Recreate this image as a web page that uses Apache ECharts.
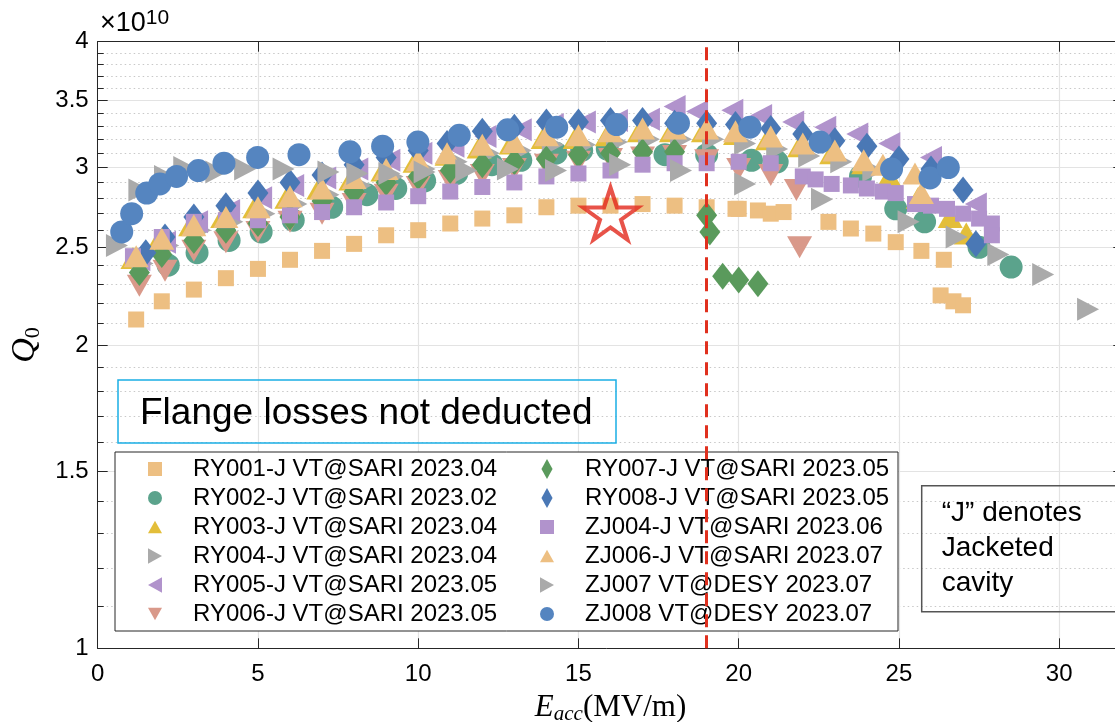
<!DOCTYPE html>
<html><head><meta charset="utf-8">
<script src="https://cdn.jsdelivr.net/npm/echarts@6/dist/echarts.min.js"></script>
<style>html,body{margin:0;padding:0;background:#fff}#c{width:1115px;height:722px}</style>
</head><body><div id="c"></div>
<script>
// ---- tick values ----
const xTicks = [0, 5, 10, 15, 20, 25, 30];
const yMajor = [1, 1.5, 2, 2.5, 3, 3.5, 4];
const yMinor = [1.1,1.2,1.3,1.4,1.6,1.7,1.8,1.9,2.1,2.2,2.3,2.4,2.6,2.7,2.8,2.9,3.1,3.2,3.3,3.4,3.6,3.7,3.8,3.9];

// ---- series names ----
const names = [
  'RY001-J VT@SARI 2023.04','RY002-J VT@SARI 2023.02','RY003-J VT@SARI 2023.04',
  'RY004-J VT@SARI 2023.04','RY005-J VT@SARI 2023.05','RY006-J VT@SARI 2023.05',
  'RY007-J VT@SARI 2023.05','RY008-J VT@SARI 2023.05','ZJ004-J VT@SARI 2023.06',
  'ZJ006-J VT@SARI 2023.07','ZJ007 VT@DESY 2023.07','ZJ008 VT@DESY 2023.07'
];

// ---- data: Eacc (MV/m) and Q0 (x1e10) ----
const RY001_x = [1.2,2.0,3.0,4.0,5.0,6.0,7.0,8.0,9.0,10.0,11.0,12.0,13.0,14.0,15.0,16.0,17.0,18.0,19.0,19.9,20.0,20.6,21.0,21.4,22.8,23.5,24.2,24.9,25.7,26.4,26.3,26.7,27.0];
const RY001_q = [2.12,2.21,2.27,2.33,2.38,2.43,2.48,2.52,2.57,2.60,2.64,2.67,2.69,2.74,2.75,2.75,2.76,2.75,2.74,2.73,2.73,2.72,2.70,2.71,2.65,2.61,2.58,2.53,2.48,2.43,2.24,2.21,2.19];

const RY002_x = [2.2,3.1,4.1,5.1,6.1,7.3,8.4,9.3,10.2,11.2,12.3,13.2,14.3,15.1,15.9,17.7,19.0,20.4,21.2,23.8,24.9,25.8,27.5,28.5];
const RY002_q = [2.40,2.47,2.54,2.59,2.66,2.74,2.82,2.86,2.91,2.96,3.02,3.05,3.10,3.12,3.13,3.09,3.09,3.05,3.04,2.94,2.73,2.65,2.50,2.39];

const RY003_x = [1.1,1.9,2.9,3.9,4.9,5.9,6.9,7.9,8.9,9.9,10.9,11.9,12.9,13.9,14.9,15.9,16.9,17.9,18.9,19.9,20.9,21.9,22.9,23.9,24.7,25.6,26.6,27.1];
const RY003_q = [2.44,2.54,2.63,2.68,2.74,2.80,2.86,2.92,2.98,3.04,3.09,3.14,3.17,3.21,3.21,3.23,3.26,3.26,3.26,3.24,3.20,3.15,3.10,3.03,2.94,2.80,2.68,2.58];

const RY004_x = [1.4,2.2,3.2,4.2,5.2,6.2,7.2,8.2,9.2,10.2,11.2,12.2,13.2,14.2,15.2,16.2,17.2,18.2,19.2,20.2,21.2,22.2,23.2,24.2];
const RY004_q = [2.41,2.51,2.60,2.65,2.70,2.76,2.82,2.88,2.94,2.99,3.04,3.10,3.12,3.16,3.16,3.18,3.20,3.20,3.20,3.17,3.13,3.08,3.04,2.98];

const RY005_x = [1.3,2.1,3.1,4.1,5.1,6.1,7.1,8.1,9.1,10.1,11.1,12.1,13.2,14.2,15.2,16.2,17.2,18.0,18.7,19.8,20.7,21.7,22.7,23.7,24.7,26.0,27.4];
const RY005_q = [2.43,2.53,2.65,2.72,2.80,2.88,2.93,2.99,3.05,3.10,3.15,3.22,3.27,3.31,3.33,3.34,3.35,3.45,3.41,3.42,3.38,3.33,3.29,3.24,3.17,3.07,2.76];

const RY006_x = [1.3,2.1,3.0,4.0,5.0,6.0,7.0,8.0,9.0,10.0,11.0,12.0,13.0,14.0,15.0,16.0,17.0,18.0,19.0,20.0,21.0,21.8,21.9];
const RY006_q = [2.29,2.37,2.48,2.53,2.59,2.65,2.70,2.76,2.82,2.87,2.91,2.95,2.99,3.02,3.04,3.06,3.07,3.08,3.05,2.99,2.95,2.85,2.50];

const RY007_x = [1.3,2.0,3.0,4.0,5.0,6.0,7.0,8.0,9.0,10.0,11.0,12.0,13.0,14.0,15.0,16.0,17.0,18.0,19.0,19.1,19.5,20.0,20.6];
const RY007_q = [2.36,2.46,2.54,2.60,2.64,2.68,2.78,2.84,2.90,2.94,2.98,3.02,3.04,3.06,3.09,3.10,3.11,3.11,2.69,2.59,2.34,2.32,2.30];

const RY008_x = [1.5,2.1,3.0,4.0,5.0,6.0,7.0,8.0,9.0,10.0,10.9,12.0,13.0,14.0,15.0,16.0,17.0,18.0,19.0,19.9,21.0,22.0,23.0,24.0,25.0,26.0,27.0,27.4];
const RY008_q = [2.47,2.56,2.68,2.75,2.83,2.90,2.95,3.02,3.07,3.12,3.17,3.26,3.29,3.33,3.33,3.34,3.34,3.32,3.32,3.31,3.28,3.24,3.19,3.15,3.06,2.99,2.85,2.52];

const ZJ004_x = [1.1,2.0,3.0,4.0,5.0,6.0,7.0,8.0,9.0,10.0,11.0,12.0,13.0,14.0,15.0,16.0,17.0,18.0,19.0,20.0,21.0,22.0,22.4,22.9,23.5,24.0,24.5,24.9,25.5,26.0,26.5,27.0,27.5,27.9,27.9];
const ZJ004_q = [2.45,2.56,2.65,2.66,2.66,2.69,2.71,2.74,2.77,2.81,2.84,2.87,2.90,2.94,2.96,2.98,3.02,3.03,3.03,3.04,3.03,2.94,2.92,2.89,2.88,2.86,2.84,2.83,2.76,2.75,2.73,2.70,2.67,2.64,2.57];

const ZJ006_x = [1.2,2.0,3.0,4.0,5.0,6.0,7.0,8.0,9.0,10.0,10.9,12.0,13.0,14.0,15.0,16.0,17.0,18.0,19.0,19.9,21.0,22.0,23.0,23.9,24.5,25.5,25.7];
const ZJ006_q = [2.45,2.55,2.63,2.68,2.74,2.81,2.86,2.93,2.99,3.05,3.10,3.16,3.18,3.23,3.23,3.26,3.28,3.28,3.28,3.26,3.22,3.17,3.12,3.05,3.02,2.96,2.83];

const ZJ007_x = [0.6,1.3,2.1,2.7,3.7,4.6,5.8,7.2,8.1,9.1,10.2,11.5,12.8,14.3,16.3,18.2,20.2,22.6,25.3,26.8,28.1,29.5,30.9];
const ZJ007_q = [2.51,2.85,2.94,3.00,2.97,2.99,2.99,2.97,2.96,2.96,2.97,2.98,2.99,2.98,3.02,2.98,2.89,2.79,2.65,2.56,2.46,2.35,2.17];

const ZJ008_x = [0.75,1.06,1.53,1.94,2.46,3.14,3.94,4.99,6.28,7.87,8.89,9.99,11.28,12.79,14.32,16.19,18.12,20.35,22.54,24.77,25.97,26.54];
const ZJ008_q = [2.59,2.70,2.83,2.89,2.94,2.98,3.03,3.07,3.09,3.11,3.15,3.18,3.23,3.27,3.29,3.31,3.32,3.29,3.18,2.99,2.93,3.00];

// highlighted point (star) and threshold line
const star_x = [16.0];
const star_q = [2.70];
const threshold_x = 19;

// ---- styles ----
const SANS = '"Liberation Sans", Arial, Helvetica, sans-serif';
const SERIF = '"Liberation Serif", "Times New Roman", serif';
const colors = ['#EDBF82','#5BA38C','#E3BE3A','#AAAAAA','#B193CC','#D9998A','#5A9A5C','#4A78B5','#B193CC','#EDBF82','#AAAAAA','#5585C0'];
const sym = {
  sq:  {symbol:'rect', size:16, rot:0},
  ci:  {symbol:'circle', size:23, rot:0},
  up:  {symbol:'triangle', size:[25,22], rot:0},
  rt:  {symbol:'triangle', size:[23,22], rot:-90},
  lf:  {symbol:'triangle', size:[23,22], rot:90},
  dn:  {symbol:'triangle', size:[25,22], rot:180},
  di:  {symbol:'diamond', size:[21,27], rot:0}
};
const legIcon = {
  sq: 'path://M0,0H10V10H0Z',
  ci: 'circle',
  up: 'path://M5,0L10,9L0,9Z',
  rt: 'path://M0,0L9,5L0,10Z',
  lf: 'path://M9,0L0,5L9,10Z',
  dn: 'path://M0,0L10,0L5,9Z',
  di: 'path://M5,0L10,9L5,18L0,9Z'
};
const kinds = ['sq','ci','up','rt','lf','dn','di','di','sq','up','rt','ci'];
const xs = [RY001_x,RY002_x,RY003_x,RY004_x,RY005_x,RY006_x,RY007_x,RY008_x,ZJ004_x,ZJ006_x,ZJ007_x,ZJ008_x];
const qs = [RY001_q,RY002_q,RY003_q,RY004_q,RY005_q,RY006_q,RY007_q,RY008_q,ZJ004_q,ZJ006_q,ZJ007_q,ZJ008_q];

const series = names.map((n, i) => {
  const s = sym[kinds[i]];
  return {
    type: 'scatter', name: n, silent: true, z: 2,
    xAxisIndex: 0, yAxisIndex: 0,
    symbol: s.symbol, symbolSize: s.size, symbolRotate: s.rot,
    itemStyle: { color: colors[i], opacity: 1 },
    data: xs[i].map((x, j) => [x, qs[i][j]])
  };
});
series.push({
  type: 'scatter', name: 'star', silent: true, z: 3,
  xAxisIndex: 0, yAxisIndex: 0,
  symbol: 'path://M0,-100L22.45,-30.9L95.1,-30.9L36.33,11.8L58.8,80.9L0,38.2L-58.8,80.9L-36.33,11.8L-95.1,-30.9L-22.45,-30.9Z',
  symbolSize: [55, 52],
  itemStyle: { color: 'rgba(0,0,0,0)', borderColor: '#E2281B', borderWidth: 4 },
  data: star_x.map((x, j) => [x, star_q[j]]),
  markLine: {
    silent: true, symbol: ['none','none'], label: {show: false},
    lineStyle: { color: '#E0301E', width: 3, type: [13, 8] },
    data: [{ xAxis: threshold_x }]
  }
});

function legend(idx, left) {
  return {
    show: true, orient: 'vertical', left: left, top: 457, padding: 0,
    itemWidth: 14, itemHeight: 20, itemGap: 5, selectedMode: false,
    symbolRotate: 0, symbolKeepAspect: true,
    textStyle: { fontSize: 24, fontFamily: SANS, color: '#000', lineHeight: 24, padding: [0,0,0,26] },
    data: idx.map(i => ({ name: names[i], icon: legIcon[kinds[i]] })),
    z: 5
  };
}

const axisCol = '#262626';
const option = {
  animation: false,
  textStyle: { fontFamily: SANS },
  grid: { left: 97.7, top: 41.7, width: 1025.6, height: 606.6, containLabel: false, outerBoundsMode: 'none' },
  legend: [legend([0,1,2,3,4,5], 148), legend([6,7,8,9,10,11], 540)],
  xAxis: [
    { type: 'value', min: 0, max: 32, position: 'bottom',
      axisLine: { show: true, onZero: false, lineStyle: { color: axisCol, width: 1 } },
      axisTick: { show: true, inside: true, length: 10, customValues: xTicks, lineStyle: { color: axisCol } },
      axisLabel: { customValues: xTicks, fontSize: 24, color: '#000', margin: 14, fontFamily: SANS },
      splitLine: { show: true, lineStyle: { color: '#e3e3e3', width: 1.2 } },
      name: '{e|E}{s|acc}{r|(MV/m)}', nameLocation: 'middle', nameGap: 30,
      nameTextStyle: { rich: {
        e: { fontFamily: SERIF, fontStyle: 'italic', fontSize: 31, lineHeight: 34, color: '#000' },
        s: { fontFamily: SERIF, fontStyle: 'italic', fontSize: 21, lineHeight: 20, padding: [13,0,0,0], color: '#000' },
        r: { fontFamily: SERIF, fontSize: 31, lineHeight: 34, color: '#000' } } } },
    { type: 'value', min: 0, max: 32, position: 'top',
      axisLine: { show: true, onZero: false, lineStyle: { color: axisCol, width: 1 } },
      axisTick: { show: true, inside: true, length: 10, customValues: xTicks, lineStyle: { color: axisCol } },
      axisLabel: { show: false }, splitLine: { show: false } }
  ],
  yAxis: [
    { type: 'log', logBase: 10, min: 1, max: 4, position: 'left',
      axisLine: { show: true, onZero: false, lineStyle: { color: axisCol, width: 1 } },
      axisTick: { show: true, inside: true, length: 10, customValues: yMajor, lineStyle: { color: axisCol } },
      axisLabel: { customValues: yMajor, fontSize: 24, color: '#000', margin: 9, fontFamily: SANS,
                   formatter: v => String(+(+v).toFixed(2)) },
      splitLine: { show: true, lineStyle: { color: '#e3e3e3', width: 1.2 } },
      minorTick: { show: false }, minorSplitLine: { show: false },
      name: '{q|Q}{s|0}', nameLocation: 'middle', nameGap: 42,
      nameTextStyle: { rich: {
        q: { fontFamily: SERIF, fontStyle: 'italic', fontSize: 34, lineHeight: 38, color: '#000' },
        s: { fontFamily: SERIF, fontSize: 22, lineHeight: 22, padding: [16,0,0,0], color: '#000' } } } },
    { type: 'log', logBase: 10, min: 1, max: 4, position: 'left',
      axisLine: { show: false },
      axisTick: { show: true, inside: true, length: 6, customValues: yMinor, lineStyle: { color: axisCol } },
      axisLabel: { show: false },
      splitLine: { show: true, lineStyle: { color: '#c8c8c8', width: 1, type: [1.5, 3] } } },
    { type: 'log', logBase: 10, min: 1, max: 4, position: 'right',
      axisLine: { show: true, onZero: false, lineStyle: { color: axisCol, width: 1 } },
      axisTick: { show: true, inside: true, length: 10, customValues: yMajor, lineStyle: { color: axisCol } },
      axisLabel: { show: false }, splitLine: { show: false } }
  ],
  graphic: [
    { type: 'rect', z: 3, shape: { x: 115, y: 452, width: 783, height: 179 },
      style: { fill: '#fff', stroke: '#262626', lineWidth: 1 } },
    { type: 'rect', z: 3, shape: { x: 118, y: 380, width: 498, height: 63 },
      style: { fill: 'none', stroke: '#1AAEE5', lineWidth: 1.5 } },
    { type: 'text', z: 4, x: 140, y: 413.7,
      style: { text: 'Flange losses not deducted', font: '37px "Liberation Sans", Arial, sans-serif', fill: '#000', verticalAlign: 'middle' } },
    { type: 'rect', z: 3, shape: { x: 921.7, y: 485.7, width: 260, height: 126 },
      style: { fill: 'none', stroke: '#555', lineWidth: 1.5 } },
    { type: 'text', z: 4, x: 941.7, y: 495.7,
      style: { text: '\u201CJ\u201D denotes\nJacketed\ncavity', font: '28px "Liberation Sans", Arial, sans-serif', lineHeight: 35, fill: '#000', verticalAlign: 'top' } },
    { type: 'text', z: 4, x: 100, y: 8,
      style: { text: '{a|\u00D710}{b|10}', verticalAlign: 'top',
        rich: { a: { fontSize: 27, lineHeight: 32, fontFamily: SANS, fill: '#000' },
                b: { fontSize: 21, lineHeight: 21, padding: [0,0,11,0], fontFamily: SANS, fill: '#000' } } } }
  ],
  series: series
};
const chart = echarts.init(document.getElementById('c'), null, { renderer: 'canvas' });
chart.setOption(option);
</script></body></html>
